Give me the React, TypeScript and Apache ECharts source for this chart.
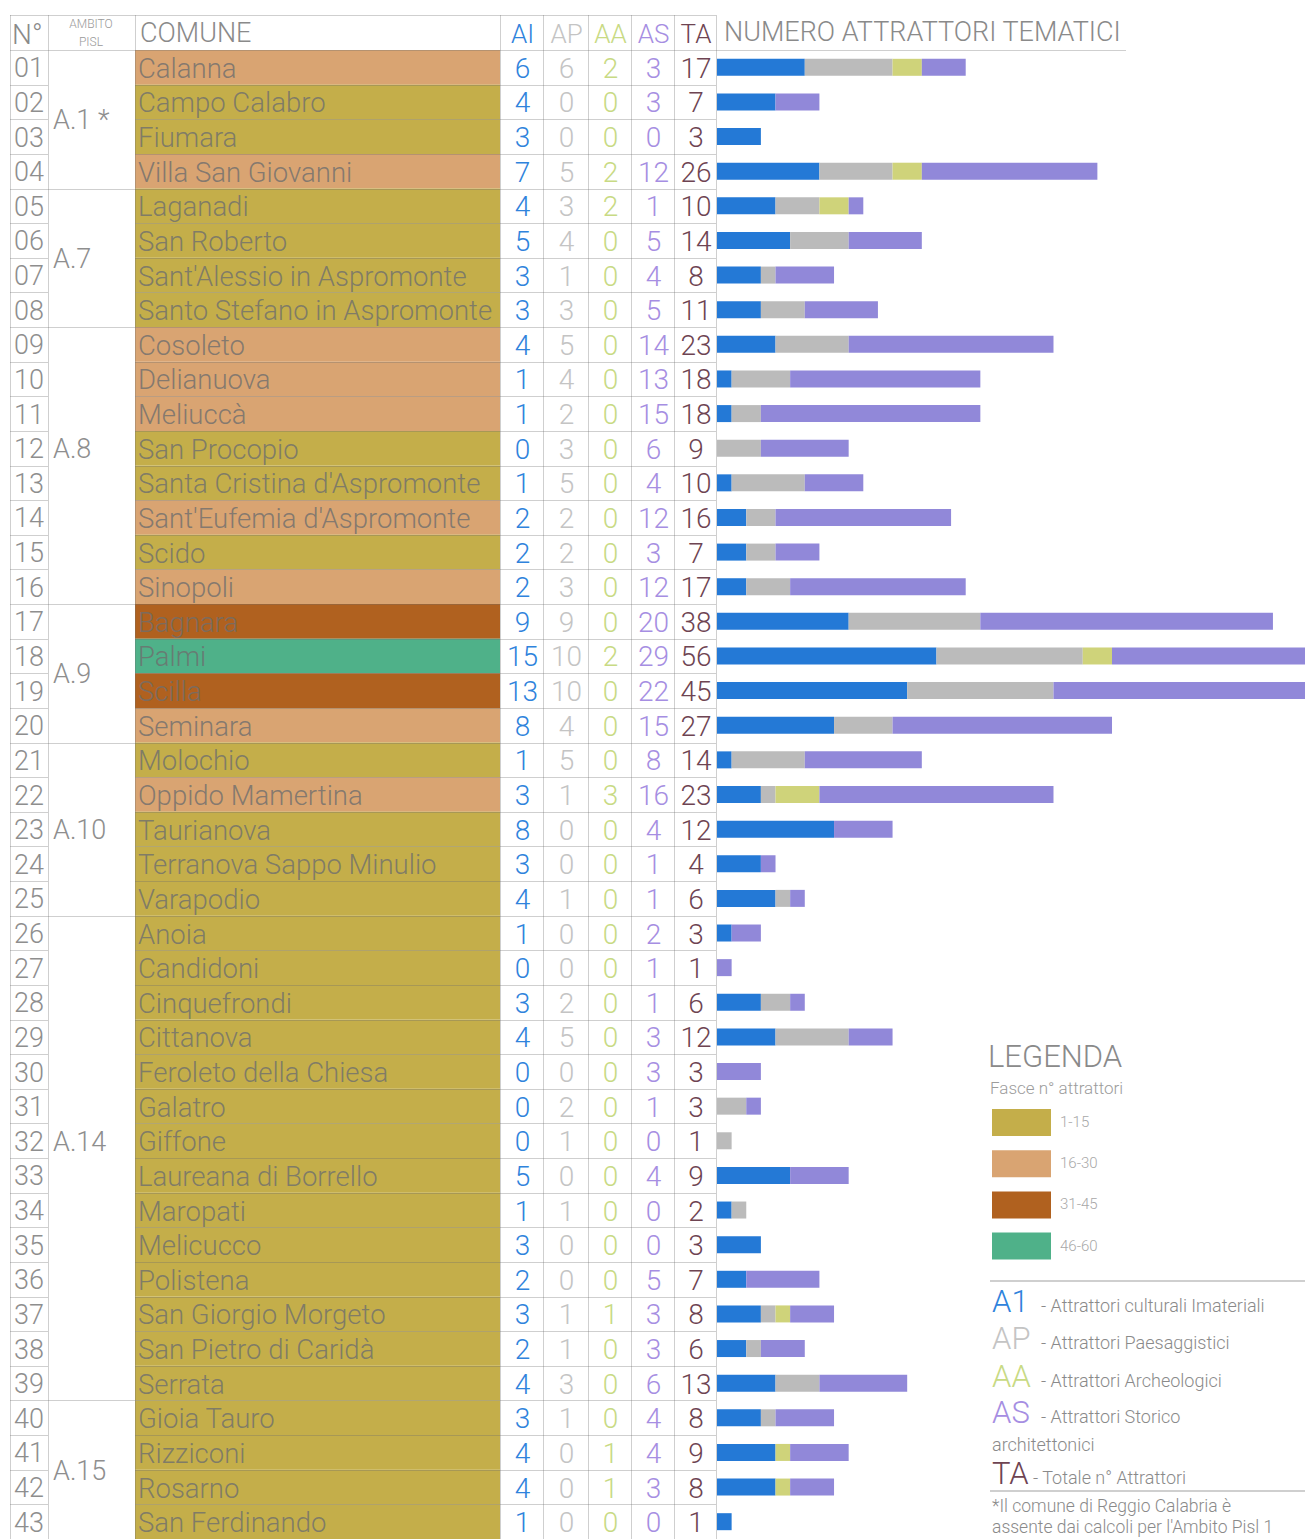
import React, { useEffect, useRef } from "react";
import * as echarts from "echarts";

// ---------- DATA ----------
const comuni = [
  "Calanna", "Campo Calabro", "Fiumara", "Villa San Giovanni",
  "Laganadi", "San Roberto", "Sant'Alessio in Aspromonte", "Santo Stefano in Aspromonte",
  "Cosoleto", "Delianuova", "Meliuccà", "San Procopio", "Santa Cristina d'Aspromonte",
  "Sant'Eufemia d'Aspromonte", "Scido", "Sinopoli",
  "Bagnara", "Palmi", "Scilla", "Seminara",
  "Molochio", "Oppido Mamertina", "Taurianova", "Terranova Sappo Minulio", "Varapodio",
  "Anoia", "Candidoni", "Cinquefrondi", "Cittanova", "Feroleto della Chiesa", "Galatro",
  "Giffone", "Laureana di Borrello", "Maropati", "Melicucco", "Polistena",
  "San Giorgio Morgeto", "San Pietro di Caridà", "Serrata",
  "Gioia Tauro", "Rizziconi", "Rosarno", "San Ferdinando",
];
const numeri = [
  "01", "02", "03", "04", "05", "06", "07", "08", "09", "10", "11", "12", "13", "14", "15",
  "16", "17", "18", "19", "20", "21", "22", "23", "24", "25", "26", "27", "28", "29", "30",
  "31", "32", "33", "34", "35", "36", "37", "38", "39", "40", "41", "42", "43",
];
const aiValues = [6, 4, 3, 7, 4, 5, 3, 3, 4, 1, 1, 0, 1, 2, 2, 2, 9, 15, 13, 8, 1, 3, 8, 3, 4, 1, 0, 3, 4, 0, 0, 0, 5, 1, 3, 2, 3, 2, 4, 3, 4, 4, 1];
const apValues = [6, 0, 0, 5, 3, 4, 1, 3, 5, 4, 2, 3, 5, 2, 2, 3, 9, 10, 10, 4, 5, 1, 0, 0, 1, 0, 0, 2, 5, 0, 2, 1, 0, 1, 0, 0, 1, 1, 3, 1, 0, 0, 0];
const aaValues = [2, 0, 0, 2, 2, 0, 0, 0, 0, 0, 0, 0, 0, 0, 0, 0, 0, 2, 0, 0, 0, 3, 0, 0, 0, 0, 0, 0, 0, 0, 0, 0, 0, 0, 0, 0, 1, 0, 0, 0, 1, 1, 0];
const asValues = [3, 3, 0, 12, 1, 5, 4, 5, 14, 13, 15, 6, 4, 12, 3, 12, 20, 29, 22, 15, 8, 16, 4, 1, 1, 2, 1, 1, 3, 3, 1, 0, 4, 0, 0, 5, 3, 3, 6, 4, 4, 3, 0];
const taValues = [17, 7, 3, 26, 10, 14, 8, 11, 23, 18, 18, 9, 10, 16, 7, 17, 38, 56, 45, 27, 14, 23, 12, 4, 6, 3, 1, 6, 12, 3, 3, 1, 9, 2, 3, 7, 8, 6, 13, 8, 9, 8, 1];

const ambitoLabels = ["A.1 *", "A.7", "A.8", "A.9", "A.10", "A.14", "A.15"];
const ambitoStarts = [0, 4, 8, 16, 20, 25, 39];
const ambitoLabelRows = [1.5, 5.5, 11, 17.5, 22, 31, 40.5];

const headerCodes = ["AI", "AP", "AA", "AS", "TA"];
const legendCodes = ["A1", "AP", "AA", "AS", "TA"];
const legendDescr = [
  "- Attrattori culturali Imateriali",
  "- Attrattori Paesaggistici",
  "- Attrattori Archeologici",
  "- Attrattori Storico",
  "- Totale n° Attrattori",
];
const fasceLabels = ["1-15", "16-30", "31-45", "46-60"];
const fasceMax = [15, 30, 45, 60];

// ---------- STYLE ----------
const codeColors = ["#2f83dc", "#c4c4c4", "#c8da84", "#a68ee2", "#6e4452"];
const barColors = ["#2479d6", "#bbbbbb", "#cfd37a", "#9188d9"];
const fasceColors = ["#c4ae4a", "#d9a472", "#b0611f", "#4fb189"];
const FONT = "Roboto, 'Liberation Sans', sans-serif";

const W = 1305;
const H = 1539;
const TOP = 50;
const HEAD_TOP = 15;
const ROWS = comuni.length;
const ROW_H = (H - TOP) / ROWS;
const COLS = [10, 48, 135, 500, 543, 588, 631, 674, 716];
const LINE = "rgba(110,110,110,0.33)";

function fasciaColor(v: number) {
  for (let i = 0; i < fasceMax.length; i++) if (v <= fasceMax[i]) return fasceColors[i];
  return fasceColors[fasceColors.length - 1];
}

function txt(text: string, x: number, y: number, size: number, fill: string, align = "left", weight: any = 300) {
  return {
    type: "text",
    x,
    y,
    z: 30,
    silent: true,
    style: {
      text,
      fill,
      fontSize: size,
      fontFamily: FONT,
      fontWeight: weight,
      align,
      verticalAlign: "middle",
    },
  };
}
function hline(x1: number, x2: number, y: number, stroke = LINE, w = 1) {
  return { type: "line", z: 20, silent: true, shape: { x1, y1: y, x2, y2: y }, style: { stroke, lineWidth: w } };
}
function vline(x: number, y1: number, y2: number, stroke = LINE, w = 1) {
  return { type: "line", z: 20, silent: true, shape: { x1: x, y1, x2: x, y2 }, style: { stroke, lineWidth: w } };
}

function buildGraphics() {
  const g: any[] = [];
  const rowY = (i: number) => TOP + i * ROW_H;
  const rowC = (i: number) => TOP + (i + 0.5) * ROW_H;

  // comune backgrounds
  comuni.forEach((_, i) => {
    g.push({
      type: "rect",
      z: 10,
      silent: true,
      shape: { x: COLS[2], y: rowY(i), width: COLS[3] - COLS[2], height: ROW_H },
      style: { fill: fasciaColor(taValues[i]) },
    });
  });

  // horizontal lines
  g.push(hline(COLS[0], COLS[8], HEAD_TOP + 0.5));
  g.push(hline(COLS[0], 1126, TOP + 0.5));
  for (let i = 1; i <= ROWS; i++) {
    const y = Math.round(rowY(i)) + 0.5;
    if (ambitoStarts.includes(i) || i === ROWS) {
      g.push(hline(COLS[0], COLS[8], y));
    } else {
      g.push(hline(COLS[0], COLS[1], y));
      g.push(hline(COLS[2], COLS[8], y));
    }
  }
  // vertical lines
  COLS.forEach((x) => g.push(vline(x + 0.5, HEAD_TOP, H)));

  // header
  g.push(txt("N°", 12, 34, 28, "#8a8a8a"));
  g.push(txt("AMBITO", 91, 24, 12, "#9a9a9a", "center"));
  g.push(txt("PISL", 91, 42, 12, "#9a9a9a", "center"));
  g.push(txt("COMUNE", 140, 33, 27, "#8a8a8a"));
  headerCodes.forEach((c, k) => {
    g.push(txt(c, (COLS[3 + k] + COLS[4 + k]) / 2 + 1, 34, 26, codeColors[k], "center"));
  });
  g.push(txt("NUMERO ATTRATTORI TEMATICI", 724, 32, 27, "#8a8a8a"));

  // rows
  const cols = [aiValues, apValues, aaValues, asValues, taValues];
  comuni.forEach((name, i) => {
    const y = rowC(i) + 1;
    g.push(txt(numeri[i], 29, y, 27, "#8e8e8e", "center"));
    g.push(txt(name, 138, y, 27.5, "rgba(110,110,110,0.8)"));
    cols.forEach((arr, k) => {
      g.push(txt(String(arr[i]), (COLS[3 + k] + COLS[4 + k]) / 2 + 1, y, 28, codeColors[k], "center"));
    });
  });

  // ambito labels
  ambitoLabels.forEach((lab, k) => {
    g.push(txt(lab, 53, rowC(ambitoLabelRows[k]) + 1, 27, "#8e8e8e"));
  });

  // legend
  g.push(txt("LEGENDA", 988, 1056, 31, "#8a8a8a"));
  g.push(txt("Fasce n° attrattori", 990, 1088, 17, "#9c9c9c"));
  fasceLabels.forEach((lab, k) => {
    const cy = 1122 + k * 41.2;
    g.push({
      type: "rect",
      z: 10,
      silent: true,
      shape: { x: 992, y: cy - 13, width: 59, height: 27 },
      style: { fill: fasceColors[k] },
    });
    g.push(txt(lab, 1060, cy, 15, "#a8a8a8"));
  });
  g.push(hline(990, 1305, 1281, "#cfcfcf", 2));
  const legY = [1301, 1338, 1376, 1412, 1473];
  legendCodes.forEach((c, k) => {
    g.push(txt(c, 992, legY[k], 31, codeColors[k]));
    g.push(txt(legendDescr[k], k === 4 ? 1033 : 1041, legY[k] + 4, 18, "#8a8a8a"));
  });
  g.push(txt("architettonici", 992, 1444, 18, "#8a8a8a"));
  g.push(hline(990, 1305, 1491, "#cfcfcf", 2));
  g.push(txt("*Il comune di Reggio Calabria è", 992, 1506, 17.5, "#8a8a8a"));
  g.push(txt("assente dai calcoli per l'Ambito Pisl 1", 992, 1527, 17.5, "#8a8a8a"));

  return g;
}

export default function App() {
  const ref = useRef<HTMLDivElement>(null);
  useEffect(() => {
    if (!ref.current) return;
    const chart = echarts.init(ref.current, null, { renderer: "svg" });
    const seriesData = [aiValues, apValues, aaValues, asValues];
    const names = ["AI", "AP", "AA", "AS"];
    chart.setOption({
      animation: false,
      backgroundColor: "#ffffff",
      grid: { left: 717, top: TOP, width: W - 717, height: H - TOP, containLabel: false },
      xAxis: {
        type: "value",
        min: 0,
        max: (W - 717) / 14.63,
        show: false,
      },
      yAxis: {
        type: "category",
        data: comuni,
        inverse: true,
        show: false,
      },
      series: seriesData.map((d, k) => ({
        type: "bar",
        name: names[k],
        stack: "tot",
        data: d,
        barWidth: 17,
        clip: true,
        itemStyle: { color: barColors[k] },
        silent: true,
      })),
      graphic: { elements: buildGraphics() },
    });
    return () => chart.dispose();
  }, []);
  return (
    <div
      ref={ref}
      style={{ position: "absolute", left: 0, top: 0, width: W, height: H }}
    />
  );
}
